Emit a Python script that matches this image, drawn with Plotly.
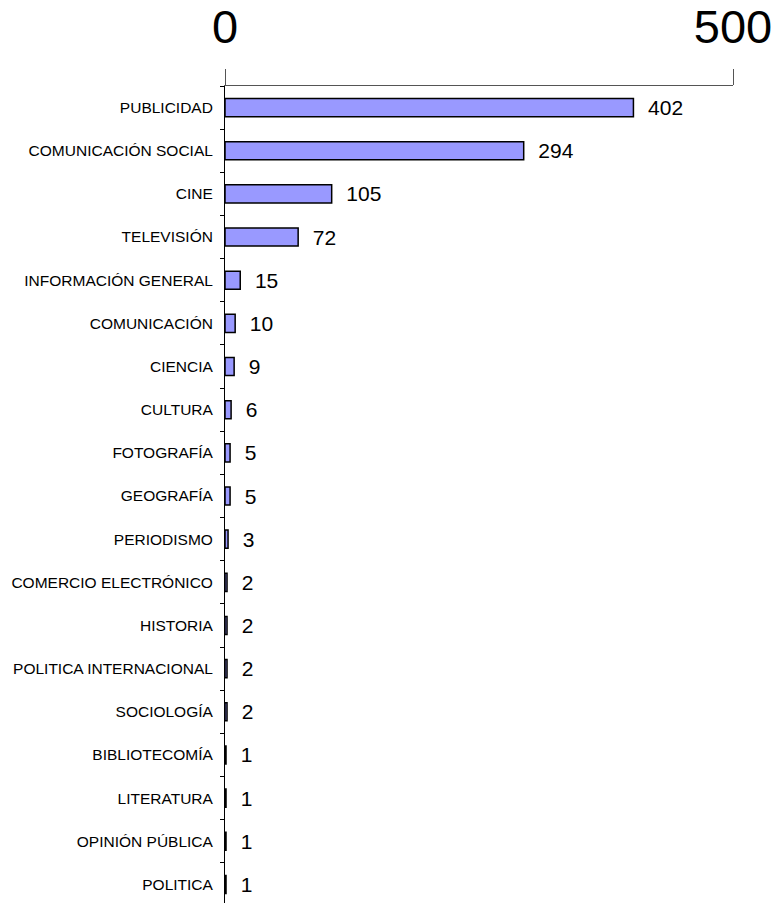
import plotly.graph_objects as go

# categories and counts, top to bottom
categorias = [
    "PUBLICIDAD", "COMUNICACIÓN SOCIAL", "CINE", "TELEVISIÓN",
    "INFORMACIÓN GENERAL", "COMUNICACIÓN", "CIENCIA", "CULTURA",
    "FOTOGRAFÍA", "GEOGRAFÍA", "PERIODISMO", "COMERCIO ELECTRÓNICO",
    "HISTORIA", "POLITICA INTERNACIONAL", "SOCIOLOGÍA", "BIBLIOTECOMÍA",
    "LITERATURA", "OPINIÓN PÚBLICA", "POLITICA",
]
valores = [402, 294, 105, 72, 15, 10, 9, 6, 5, 5, 3, 2, 2, 2, 2, 1, 1, 1, 1]
x_ticks = [0, 500]

fig = go.Figure(
    go.Bar(
        x=valores,
        y=categorias,
        orientation="h",
        width=0.42,
        marker=dict(color="#9999FF", line=dict(color="black", width=1.5)),
        text=valores,
        texttemplate="\u00a0\u00a0%{x}",
        textposition="outside",
        constraintext="none",
        textfont=dict(family="Arial", size=21, color="black"),
        cliponaxis=False,
    )
)

fig.update_layout(
    width=777,
    height=903,
    margin=dict(l=225, r=44, t=86, b=0),
    plot_bgcolor="white",
    paper_bgcolor="white",
    showlegend=False,
    font=dict(family="Arial", color="black"),
    xaxis=dict(
        side="top",
        range=[0, 500],
        tickvals=x_ticks,
        ticktext=[str(v) for v in x_ticks],
        tickfont=dict(size=47),
        ticks="outside",
        ticklen=16,
        tickcolor="#555555",
        ticklabelstandoff=7,
        showline=True,
        linecolor="#555555",
        linewidth=1,
        showgrid=False,
        zeroline=False,
        automargin=False,
    ),
    yaxis=dict(
        type="category",
        range=[18.43, -0.5],
        tickson="boundaries",
        ticks="outside",
        ticklen=4,
        tickcolor="black",
        tickfont=dict(size=15.5),
        ticklabelstandoff=8,
        showline=True,
        linecolor="black",
        linewidth=1,
        showgrid=False,
        zeroline=False,
        automargin=False,
    ),
)

# drop the default body margin so the figure fills the window exactly
fig.write_html(
    "out.html",
    config={"displayModeBar": False},
    post_script="document.body.style.margin='0';document.body.style.overflow='hidden';",
)
